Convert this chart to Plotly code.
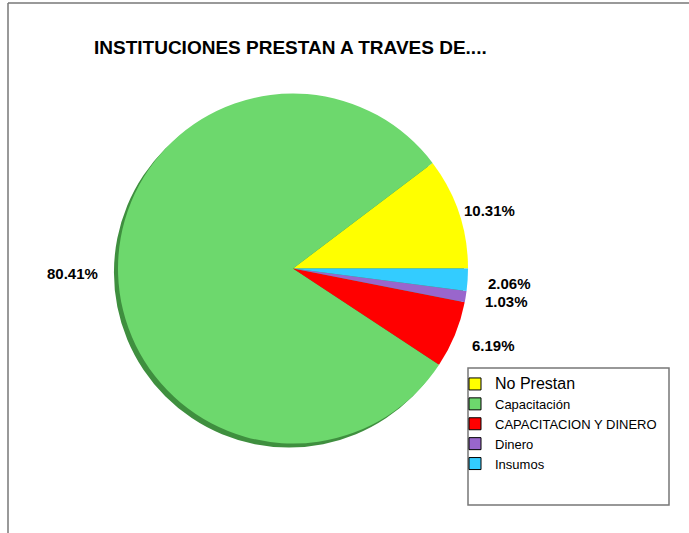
import plotly.graph_objects as go

labels = ["No Prestan", "Capacitación", "CAPACITACION Y DINERO", "Dinero", "Insumos"]
values = [10.31, 80.41, 6.19, 1.03, 2.06]
colors = ["#FFFF00", "#6DD86D", "#FF0000", "#9966CC", "#33CCFF"]
title_text = "INSTITUCIONES PRESTAN A TRAVES DE...."

W, H = 689, 533
def px(x): return x / W
def py(y): return 1 - y / H

cx0, cx1, cy0, cy1 = 118, 468, 93, 444
off = 4

# first slice should start at 3 o'clock and run counterclockwise
rot = 90 - values[0] / sum(values) * 360

legend_labels = ['<span style="font-size:16px">%s</span>' % labels[0]] + labels[1:]

fig = go.Figure()
# legend-only trace (tiny, hidden under the pie) giving outlined legend swatches
fig.add_trace(go.Pie(values=values, labels=legend_labels,
                     marker=dict(colors=colors, line=dict(color="black", width=1)),
                     domain=dict(x=[px(292), px(293)], y=[py(270), py(269)]),
                     sort=False, textinfo="none", hoverinfo="skip", showlegend=True))
# shadow
fig.add_trace(go.Pie(values=[1], labels=["shadow"], marker=dict(colors=["#3F8F3F"]),
                     domain=dict(x=[px(cx0 - off), px(cx1 - off)], y=[py(cy1 + off), py(cy0 + off)]),
                     showlegend=False, textinfo="none", hoverinfo="skip", sort=False))
fig.add_trace(go.Pie(values=values, labels=legend_labels, marker=dict(colors=colors, line=dict(width=0)),
                     domain=dict(x=[px(cx0), px(cx1)], y=[py(cy1), py(cy0)]),
                     sort=False, direction="counterclockwise", rotation=rot,
                     textinfo="none", hoverinfo="label+percent", showlegend=False))

# label positions (pixel)
lab_pos = [(489, 210), (72, 273), (494, 345), (507, 301), (509, 283)]
annotations = []
for v, (x, y) in zip(values, lab_pos):
    annotations.append(dict(x=px(x), y=py(y), xref="paper", yref="paper", text="<b>%.2f%%</b>" % v,
                            showarrow=False, font=dict(family="Liberation Sans, Arial", size=15, color="black"),
                            xanchor="center", yanchor="middle"))
annotations.append(dict(x=px(92), y=py(47), xref="paper", yref="paper", text="<b>%s</b>" % title_text,
                        showarrow=False, font=dict(family="Liberation Sans, Arial", size=19, color="black"),
                        xanchor="left", yanchor="middle"))

shapes = [
    dict(type="line", xref="paper", yref="paper", x0=px(8), x1=1, y0=py(3), y1=py(3), line=dict(color="#777777", width=1.5)),
    dict(type="line", xref="paper", yref="paper", x0=px(8), x1=px(8), y0=py(3), y1=0, line=dict(color="#777777", width=1.5)),
    dict(type="rect", xref="paper", yref="paper", x0=px(468), x1=px(669), y0=py(505), y1=py(368), line=dict(color="#777777", width=1.5)),
]

fig.update_layout(
    width=W, height=H, margin=dict(l=0, r=0, t=0, b=0),
    paper_bgcolor="white", plot_bgcolor="white",
    showlegend=True,
    legend=dict(x=px(455), y=py(369), xanchor="left", yanchor="top", traceorder="normal",
                font=dict(family="Liberation Sans, Arial", size=13, color="black"),
                bgcolor="rgba(0,0,0,0)", itemwidth=30, tracegroupgap=0),
    annotations=annotations, shapes=shapes,
)
fig.write_html("out.html")
